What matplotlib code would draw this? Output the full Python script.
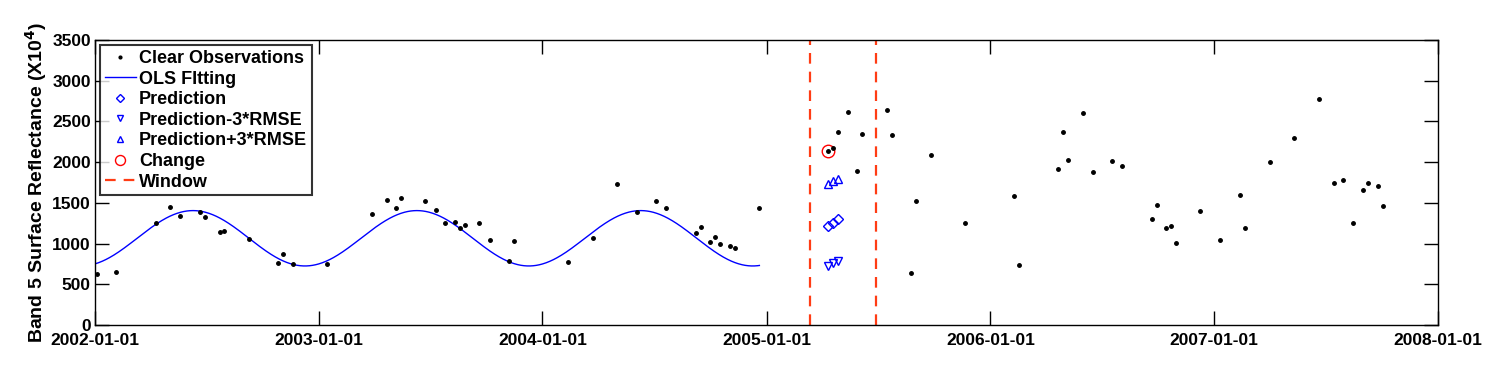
import numpy as np
import pandas as pd
import matplotlib
matplotlib.use("Agg")
import matplotlib.pyplot as plt

plt.rcParams['font.family'] = ['Liberation Sans', 'DejaVu Sans']

start = pd.Timestamp('2002-01-01')

# clear observations: days since 2002-01-01 and band 5 reflectance
obs_day = [3, 35, 99, 122, 139, 171, 180, 204, 211, 251, 299, 307, 323, 379,
           452, 476, 491, 500, 539, 556, 571, 587, 595, 604, 627, 644, 675, 684,
           772, 812, 852, 884, 916, 932, 980, 988, 1004, 1011, 1020, 1036, 1044, 1084,
           1196, 1204, 1212, 1228, 1244, 1252, 1292, 1300, 1332, 1339, 1364, 1420,
           1500, 1508, 1572, 1580, 1588, 1612, 1628, 1660, 1676, 1724, 1732, 1748,
           1756, 1764, 1803, 1836, 1868, 1876, 1917, 1956, 1997, 2021, 2036, 2052,
           2068, 2077, 2093, 2101]
obs_val = [623, 655, 1253, 1445, 1342, 1383, 1330, 1146, 1158, 1056, 757, 876, 749, 745,
           1363, 1531, 1433, 1556, 1523, 1408, 1253, 1261, 1187, 1228, 1248, 1048, 790, 1028,
           774, 1064, 1731, 1392, 1519, 1433, 1130, 1200, 1019, 1077, 995, 974, 942, 1433,
           2133, 2178, 2366, 2616, 1891, 2346, 2640, 2337, 639, 1519, 2091, 1256,
           1589, 737, 1916, 2366, 2026, 2608, 1883, 2014, 1957, 1305, 1474, 1191,
           1220, 1007, 1396, 1040, 1597, 1187, 2002, 2292, 2771, 1744, 1777, 1253,
           1654, 1744, 1707, 1461]

# OLS harmonic model (mean, amplitude, day of peak) over the fitting period
fit_mean = 1065
fit_amp = 340
fit_peak_day = 160
fit_end_day = 1084

# predictions for the three observations inside the window
pred_day = [1196, 1204, 1212]
pred_val = [1216, 1256, 1298]
pred_low = [724, 757, 790]
pred_high = [1728, 1765, 1797]

change_day = [1196]
change_val = [2133]

window_days = [1166, 1275]

ticks = pd.date_range('2002-01-01', '2008-01-01', freq='YS')

def to_date(days):
    return start + pd.to_timedelta(np.asarray(days), unit='D')

fig = plt.figure(figsize=(15, 3.78), dpi=100)
ax = fig.add_axes([0.0633, 0.1402, 0.8953, 0.7540])

fit_days = np.arange(0, fit_end_day + 1)
fit_vals = fit_mean + fit_amp * np.cos(2 * np.pi * (fit_days - fit_peak_day) / 365.25)

ax.plot(to_date(obs_day), obs_val, '.', color='black', markersize=5, label='Clear Observations', zorder=3)
ax.plot(to_date(fit_days), fit_vals, '-', color='blue', lw=1, label='OLS FItting')
ax.plot(to_date(pred_day), pred_val, 'D', mfc='none', mec='blue', markersize=5, mew=1, label='Prediction')
ax.plot(to_date(pred_day), pred_low, 'v', mfc='none', mec='blue', markersize=6, mew=1, label='Prediction-3*RMSE')
ax.plot(to_date(pred_day), pred_high, '^', mfc='none', mec='blue', markersize=6, mew=1, label='Prediction+3*RMSE')
ax.plot(to_date(change_day), change_val, 'o', mfc='none', mec='red', markersize=9, mew=1, label='Change')
for i, d in enumerate(window_days):
    ax.axvline(to_date([d])[0], color='#ff3c14', lw=1.6, dashes=(4.8, 3.6),
               label='Window' if i == 0 else None)

ax.set_xlim(ticks[0], ticks[-1])
ax.set_ylim(0, 3500)
ax.set_xticks(ticks)
ax.set_xticklabels([t.strftime('%Y-%m-%d') for t in ticks], fontsize=12.5, fontweight='bold')
ax.set_yticks(np.arange(0, 3501, 500))
ax.set_yticklabels([str(v) for v in range(0, 3501, 500)], fontsize=12.5, fontweight='bold')
ax.tick_params(direction='in', length=10, width=1, top=True, right=True)
ax.tick_params(axis='x', pad=6)
ax.tick_params(axis='y', pad=3)
for s in ax.spines.values():
    s.set_linewidth(1)
ax.set_ylabel('Band 5 Surface Reflectance (X10$^\\mathbf{4}$)', fontsize=14, fontweight='bold', labelpad=2)

leg = ax.legend(loc='upper left', prop={'weight': 'bold', 'size': 13},
                frameon=True, fancybox=False, borderpad=0.25, labelspacing=0.2,
                handlelength=1.7, handletextpad=0.2, borderaxespad=0.3, markerscale=0.8)
leg.get_frame().set_edgecolor('black')
leg.get_frame().set_linewidth(1.5)

fig.savefig('out.png', dpi=100)
